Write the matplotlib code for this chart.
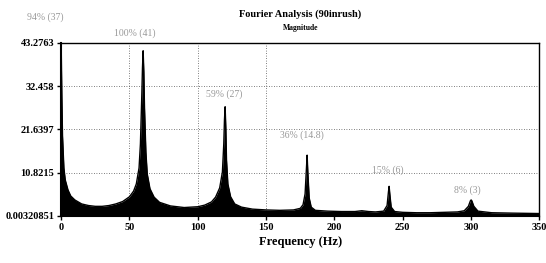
import matplotlib.pyplot as plt

# spectrum (Hz, magnitude)
freq = [0, 0.5, 1, 2, 3, 5, 7, 10, 15, 20, 25, 30, 35, 40, 45, 50, 53, 55, 57, 58,
        59, 59.5, 60, 60.5, 61, 62, 63, 65, 68, 72, 80, 90, 100, 105, 110, 113, 116,
        118, 119, 119.5, 120, 120.5, 121, 122, 124, 127, 132, 140, 150, 160, 170, 175,
        177, 178.5, 179.5, 180, 180.5, 181.5, 183, 186, 195, 205, 215, 220, 225, 230,
        236, 238.5, 239.5, 240, 240.5, 241.5, 244, 250, 260, 270, 280, 290, 295, 298,
        299.5, 300, 300.5, 302, 305, 315, 330, 350]
mag = [43.2, 30, 20, 12, 9, 6.5, 5, 4, 3, 2.6, 2.4, 2.4, 2.6, 3, 3.6, 4.8, 6.2, 8, 12, 18,
       30, 37, 41.3, 36, 27, 16, 10.5, 6.8, 4.7, 3.4, 2.5, 2.1, 2.3, 2.7, 3.5, 4.7, 7,
       11, 18, 24, 27.3, 22, 14, 8, 4.8, 3, 2.2, 1.7, 1.5, 1.4, 1.5, 1.9,
       2.8, 5.5, 12, 15.2, 11, 4.5, 2.2, 1.4, 1.2, 1.1, 1.1, 1.3, 1.1, 1.0,
       1.2, 2.6, 6, 7.4, 5.5, 2.2, 1.1, 0.9, 0.8, 0.8, 0.9, 1.0, 1.3, 2.4,
       3.8, 4.0, 3.8, 2.4, 1.2, 0.8, 0.7, 0.6]

yticks = [0.00320851, 10.8215, 21.6397, 32.458, 43.2763]
ytick_labels = ["0.00320851", "10.8215", "21.6397", "32.458", "43.2763"]
xticks = [0, 50, 100, 150, 200, 250, 300, 350]

# harmonic labels (text, x Hz, y magnitude)
peak_text = ["94% (37)", "100% (41)", "59% (27)", "36% (14.8)", "15% (6)", "8% (3)"]
peak_x = [-12, 54, 119, 176, 239, 297]
peak_y = [49.8, 45.8, 30.5, 20.3, 11.5, 6.5]

serif = "Liberation Serif"

fig = plt.figure(figsize=(5.46, 2.63), dpi=100)
ax = fig.add_axes([0.112, 0.179, 0.876, 0.658])

ax.fill_between(freq, 0.00320851, mag, color="black", lw=0)
ax.plot(freq, mag, color="black", lw=1.0)

ax.set_xlim(0, 350)
ax.set_ylim(0.00320851, 43.2763)
ax.set_xticks(xticks)
ax.set_xticklabels([str(x) for x in xticks], fontfamily=serif, fontweight="bold", fontsize=7.5)
ax.set_yticks(yticks)
ax.set_yticklabels(ytick_labels, fontfamily=serif, fontweight="bold", fontsize=7.5)
ax.tick_params(direction="out", length=3, width=1, pad=2)

# dotted grid
for y in yticks[1:4]:
    ax.axhline(y, color="#555555", lw=0.6, ls=(0, (1, 2)), zorder=0)
for x in [50, 100, 150]:
    ax.axvline(x, color="#555555", lw=0.6, ls=(0, (1, 2)), zorder=0)

for s in ["left", "bottom"]:
    ax.spines[s].set_linewidth(1.5)
for s in ["top", "right"]:
    ax.spines[s].set_linewidth(1.0)

ax.set_xlabel("Frequency (Hz)", fontfamily=serif, fontweight="bold", fontsize=9, labelpad=3)

fig.text(0.55, 0.945, "Fourier Analysis (90inrush)", ha="center", va="center",
         fontfamily=serif, fontweight="bold", fontsize=7.5)
fig.text(0.55, 0.893, "Magnitude", ha="center", va="center",
         fontfamily=serif, fontweight="bold", fontsize=5.5)

for t, x, y in zip(peak_text, peak_x, peak_y):
    ax.text(x, y, t, ha="center", va="center", fontfamily=serif, fontsize=7,
            color="#999999", clip_on=False)

fig.savefig("out.png", dpi=100)
